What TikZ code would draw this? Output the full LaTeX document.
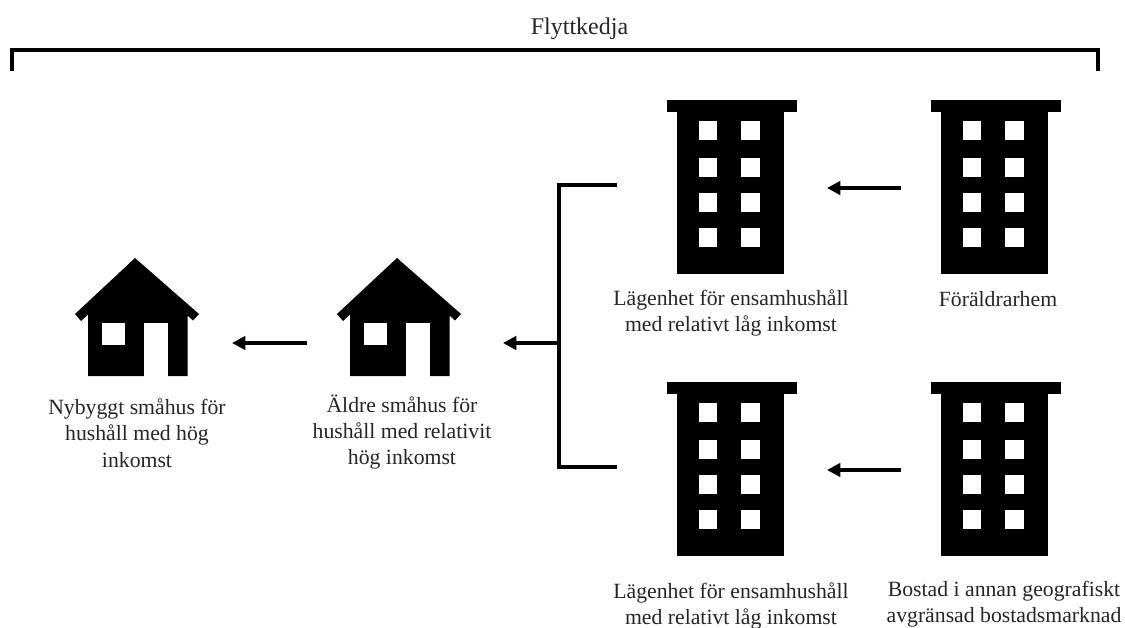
\documentclass[tikz,border=0pt]{standalone}
\usepackage{fontspec}
\setmainfont{Liberation Serif}
\usetikzlibrary{arrows.meta}
\tikzset{
  x=0.75pt,y=-0.75pt,
  lbl/.style={align=center,font=\fontsize{16.3}{19.7}\selectfont,text=black!85,inner sep=0pt},
  conn/.style={line width=3pt,black},
  arr/.style={conn,-{Triangle[length=10pt,width=10pt]}},
  pics/house/.style={code={
    \fill[black] (0,-56) -- (64,0) -- (58,6.5) -- (52.5,1.5) -- (52.5,62) -- (-47,62) -- (-47,0.5) -- (-54,7) -- (-60,0) -- cycle;
    \fill[white] (-33,9) rectangle (-10,31);
    \fill[white] (9,9) rectangle (33,63);
  }},
  pics/tower/.style={code={
    \fill[black] (0,0) rectangle (130,12);
    \fill[black] (10,12) rectangle (117,174);
    \foreach \wy in {21,57.5,93,128}{
      \fill[white] (32,\wy) rectangle (50,\wy+19);
      \fill[white] (74,\wy) rectangle (93,\wy+19);
    }
  }}
}
\begin{document}
\begin{tikzpicture}
\useasboundingbox (0,0) rectangle (1125,628);
\fill[white] (0,0) rectangle (1125,628);
% bracket
\coordinate (brL) at (12,71);
\coordinate (brR) at (1098,71);
\draw[conn,line cap=butt,miter limit=10] (brL) -- (12,50) -- (1098,50) -- (brR);
\node[lbl,font=\fontsize{18}{22}\selectfont] (title) at (579.5,29) {Flyttkedja};
% icons
\pic at (135,314) {house};
\pic at (397,314) {house};
\pic at (667,100) {tower};
\pic at (931,100) {tower};
\pic at (667,382) {tower};
\pic at (931,382) {tower};
% labels
\node[lbl] (lh1) at (137,433) {Nybyggt småhus för\\hushåll med hög\\inkomst};
\node[lbl] (lh2) at (402,432) {Äldre småhus för\\hushåll med relativit\\hög inkomst};
\node[lbl] (lt1) at (731,313) {Lägenhet för ensamhushåll\\med relativt låg inkomst};
\node[lbl] (lt2) at (998,299) {Föräldrarhem};
\node[lbl] (lt3) at (731,606) {Lägenhet för ensamhushåll\\med relativt låg inkomst};
\node[lbl] (lt4) at (1004,604) {Bostad i annan geografiskt\\avgränsad bostadsmarknad};
% connector ends
\coordinate (a1s) at (307,343);
\coordinate (a1e) at (232,343);
\coordinate (a2s) at (559,343);
\coordinate (a2e) at (503,343);
\coordinate (a3s) at (901,188);
\coordinate (a3e) at (827,188);
\coordinate (a4s) at (901,470);
\coordinate (a4e) at (827,470);
\coordinate (fkT) at (617,185);
\coordinate (fkB) at (617,467);
\draw[arr] (a1s) -- (a1e);
\draw[arr] (a2s) -- (a2e);
\draw[arr] (a3s) -- (a3e);
\draw[arr] (a4s) -- (a4e);
\draw[conn] (fkT) -- (559,185) -- (559,467) -- (fkB);
\end{tikzpicture}
\end{document}
